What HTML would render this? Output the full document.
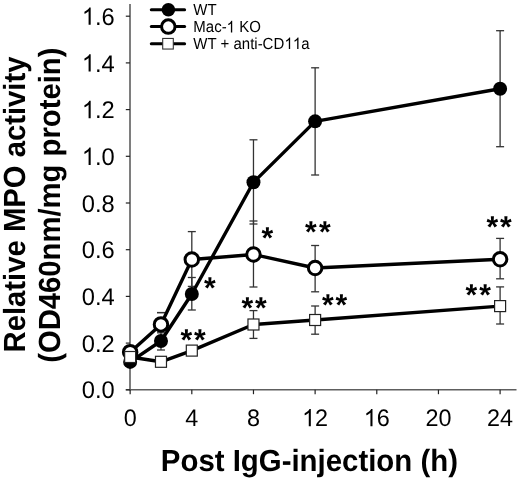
<!DOCTYPE html><html><head><meta charset="utf-8"><style>html,body{margin:0;padding:0;background:#fff;}svg{display:block;will-change:transform;}text{font-family:"Liberation Sans",sans-serif;text-rendering:geometricPrecision;}</style></head><body>
<svg width="520" height="479" viewBox="0 0 520 479">
<rect width="520" height="479" fill="#fff"/>
<line x1="130" y1="4" x2="130" y2="390.5" stroke="#5e5e5e" stroke-width="1.6"/>
<line x1="125.8" y1="389.8" x2="516.5" y2="389.8" stroke="#5e5e5e" stroke-width="1.6"/>
<line x1="125.8" y1="389.80" x2="130" y2="389.80" stroke="#222" stroke-width="1.2"/>
<g transform="translate(0,398.40) scale(1,1.02)"><text x="81.85" y="0.00" font-size="23.7">0.0</text></g>
<line x1="125.8" y1="343.10" x2="130" y2="343.10" stroke="#222" stroke-width="1.2"/>
<g transform="translate(0,351.70) scale(1,1.02)"><text x="81.85" y="0.00" font-size="23.7">0.2</text></g>
<line x1="125.8" y1="296.40" x2="130" y2="296.40" stroke="#222" stroke-width="1.2"/>
<g transform="translate(0,305.00) scale(1,1.02)"><text x="81.85" y="0.00" font-size="23.7">0.4</text></g>
<line x1="125.8" y1="249.70" x2="130" y2="249.70" stroke="#222" stroke-width="1.2"/>
<g transform="translate(0,258.30) scale(1,1.02)"><text x="81.85" y="0.00" font-size="23.7">0.6</text></g>
<line x1="125.8" y1="203.00" x2="130" y2="203.00" stroke="#222" stroke-width="1.2"/>
<g transform="translate(0,211.60) scale(1,1.02)"><text x="81.85" y="0.00" font-size="23.7">0.8</text></g>
<line x1="125.8" y1="156.30" x2="130" y2="156.30" stroke="#222" stroke-width="1.2"/>
<g transform="translate(0,164.90) scale(1,1.02)"><path transform="translate(81.85,0.00) scale(0.01157,-0.01157)" d="M763 0H583V1147Q518 1085 412.5 1023T223 930V1104Q374 1175 487 1276T647 1472H763V0Z"/><text x="95.03" y="0.00" font-size="23.7">.0</text></g>
<line x1="125.8" y1="109.60" x2="130" y2="109.60" stroke="#222" stroke-width="1.2"/>
<g transform="translate(0,118.20) scale(1,1.02)"><path transform="translate(81.85,0.00) scale(0.01157,-0.01157)" d="M763 0H583V1147Q518 1085 412.5 1023T223 930V1104Q374 1175 487 1276T647 1472H763V0Z"/><text x="95.03" y="0.00" font-size="23.7">.2</text></g>
<line x1="125.8" y1="62.90" x2="130" y2="62.90" stroke="#222" stroke-width="1.2"/>
<g transform="translate(0,71.50) scale(1,1.02)"><path transform="translate(81.85,0.00) scale(0.01157,-0.01157)" d="M763 0H583V1147Q518 1085 412.5 1023T223 930V1104Q374 1175 487 1276T647 1472H763V0Z"/><text x="95.03" y="0.00" font-size="23.7">.4</text></g>
<line x1="125.8" y1="16.20" x2="130" y2="16.20" stroke="#222" stroke-width="1.2"/>
<g transform="translate(0,24.80) scale(1,1.02)"><path transform="translate(81.85,0.00) scale(0.01157,-0.01157)" d="M763 0H583V1147Q518 1085 412.5 1023T223 930V1104Q374 1175 487 1276T647 1472H763V0Z"/><text x="95.03" y="0.00" font-size="23.7">.6</text></g>
<line x1="130.15" y1="389.8" x2="130.15" y2="394.2" stroke="#222" stroke-width="1.2"/>
<g transform="translate(0,426.20) scale(1,1.02)"><text x="123.64" y="0.00" font-size="23.4">0</text></g>
<line x1="191.81" y1="389.8" x2="191.81" y2="394.2" stroke="#222" stroke-width="1.2"/>
<g transform="translate(0,426.20) scale(1,1.02)"><text x="185.30" y="0.00" font-size="23.4">4</text></g>
<line x1="253.47" y1="389.8" x2="253.47" y2="394.2" stroke="#222" stroke-width="1.2"/>
<g transform="translate(0,426.20) scale(1,1.02)"><text x="246.96" y="0.00" font-size="23.4">8</text></g>
<line x1="315.12" y1="389.8" x2="315.12" y2="394.2" stroke="#222" stroke-width="1.2"/>
<g transform="translate(0,426.20) scale(1,1.02)"><path transform="translate(302.11,0.00) scale(0.01143,-0.01143)" d="M763 0H583V1147Q518 1085 412.5 1023T223 930V1104Q374 1175 487 1276T647 1472H763V0Z"/><text x="315.12" y="0.00" font-size="23.4">2</text></g>
<line x1="376.78" y1="389.8" x2="376.78" y2="394.2" stroke="#222" stroke-width="1.2"/>
<g transform="translate(0,426.20) scale(1,1.02)"><path transform="translate(363.77,0.00) scale(0.01143,-0.01143)" d="M763 0H583V1147Q518 1085 412.5 1023T223 930V1104Q374 1175 487 1276T647 1472H763V0Z"/><text x="376.78" y="0.00" font-size="23.4">6</text></g>
<line x1="438.44" y1="389.8" x2="438.44" y2="394.2" stroke="#222" stroke-width="1.2"/>
<g transform="translate(0,426.20) scale(1,1.02)"><text x="425.43" y="0.00" font-size="23.4">20</text></g>
<line x1="500.10" y1="389.8" x2="500.10" y2="394.2" stroke="#222" stroke-width="1.2"/>
<g transform="translate(0,426.20) scale(1,1.02)"><text x="487.09" y="0.00" font-size="23.4">24</text></g>
<text transform="translate(309.4,470.9) scale(1,1.04)" font-size="29.4" font-weight="bold" text-anchor="middle">Post IgG-injection (h)</text>
<text transform="translate(24.8,204.5) rotate(-90) scale(1,1.045)" font-size="29.25" font-weight="bold" text-anchor="middle">Relative MPO activity</text>
<text transform="translate(60.3,205.2) rotate(-90) scale(1,1.045)" font-size="29.25" font-weight="bold" text-anchor="middle">(OD460nm/mg protein)</text>
<line x1="160.98" y1="332.8" x2="160.98" y2="350.0" stroke="#333" stroke-width="1.3"/>
<line x1="156.98" y1="332.8" x2="164.98" y2="332.8" stroke="#333" stroke-width="1.3"/>
<line x1="156.98" y1="350.0" x2="164.98" y2="350.0" stroke="#333" stroke-width="1.3"/>
<line x1="191.81" y1="277.5" x2="191.81" y2="310.0" stroke="#333" stroke-width="1.3"/>
<line x1="187.81" y1="277.5" x2="195.81" y2="277.5" stroke="#333" stroke-width="1.3"/>
<line x1="187.81" y1="310.0" x2="195.81" y2="310.0" stroke="#333" stroke-width="1.3"/>
<line x1="253.47" y1="139.8" x2="253.47" y2="224.0" stroke="#333" stroke-width="1.3"/>
<line x1="249.47" y1="139.8" x2="257.47" y2="139.8" stroke="#333" stroke-width="1.3"/>
<line x1="249.47" y1="224.0" x2="257.47" y2="224.0" stroke="#333" stroke-width="1.3"/>
<line x1="315.12" y1="67.8" x2="315.12" y2="175.0" stroke="#333" stroke-width="1.3"/>
<line x1="311.12" y1="67.8" x2="319.12" y2="67.8" stroke="#333" stroke-width="1.3"/>
<line x1="311.12" y1="175.0" x2="319.12" y2="175.0" stroke="#333" stroke-width="1.3"/>
<line x1="500.10" y1="30.7" x2="500.10" y2="146.7" stroke="#333" stroke-width="1.3"/>
<line x1="496.10" y1="30.7" x2="504.10" y2="30.7" stroke="#333" stroke-width="1.3"/>
<line x1="496.10" y1="146.7" x2="504.10" y2="146.7" stroke="#333" stroke-width="1.3"/>
<line x1="160.98" y1="312.6" x2="160.98" y2="312.6" stroke="#333" stroke-width="1.3"/>
<line x1="156.98" y1="312.6" x2="164.98" y2="312.6" stroke="#333" stroke-width="1.3"/>
<line x1="156.98" y1="312.6" x2="164.98" y2="312.6" stroke="#333" stroke-width="1.3"/>
<line x1="191.81" y1="231.6" x2="191.81" y2="286.4" stroke="#333" stroke-width="1.3"/>
<line x1="187.81" y1="231.6" x2="195.81" y2="231.6" stroke="#333" stroke-width="1.3"/>
<line x1="187.81" y1="286.4" x2="195.81" y2="286.4" stroke="#333" stroke-width="1.3"/>
<line x1="253.47" y1="221.0" x2="253.47" y2="287.0" stroke="#333" stroke-width="1.3"/>
<line x1="249.47" y1="221.0" x2="257.47" y2="221.0" stroke="#333" stroke-width="1.3"/>
<line x1="249.47" y1="287.0" x2="257.47" y2="287.0" stroke="#333" stroke-width="1.3"/>
<line x1="315.12" y1="245.5" x2="315.12" y2="291.8" stroke="#333" stroke-width="1.3"/>
<line x1="311.12" y1="245.5" x2="319.12" y2="245.5" stroke="#333" stroke-width="1.3"/>
<line x1="311.12" y1="291.8" x2="319.12" y2="291.8" stroke="#333" stroke-width="1.3"/>
<line x1="500.10" y1="238.4" x2="500.10" y2="278.8" stroke="#333" stroke-width="1.3"/>
<line x1="496.10" y1="238.4" x2="504.10" y2="238.4" stroke="#333" stroke-width="1.3"/>
<line x1="496.10" y1="278.8" x2="504.10" y2="278.8" stroke="#333" stroke-width="1.3"/>
<line x1="253.47" y1="310.6" x2="253.47" y2="338.4" stroke="#333" stroke-width="1.3"/>
<line x1="249.47" y1="310.6" x2="257.47" y2="310.6" stroke="#333" stroke-width="1.3"/>
<line x1="249.47" y1="338.4" x2="257.47" y2="338.4" stroke="#333" stroke-width="1.3"/>
<line x1="315.12" y1="306.0" x2="315.12" y2="334.2" stroke="#333" stroke-width="1.3"/>
<line x1="311.12" y1="306.0" x2="319.12" y2="306.0" stroke="#333" stroke-width="1.3"/>
<line x1="311.12" y1="334.2" x2="319.12" y2="334.2" stroke="#333" stroke-width="1.3"/>
<line x1="500.10" y1="286.9" x2="500.10" y2="324.0" stroke="#333" stroke-width="1.3"/>
<line x1="496.10" y1="286.9" x2="504.10" y2="286.9" stroke="#333" stroke-width="1.3"/>
<line x1="496.10" y1="324.0" x2="504.10" y2="324.0" stroke="#333" stroke-width="1.3"/>
<polyline points="130.15,361.90 160.98,341.00 191.81,294.00 253.47,182.30 315.12,121.35 500.10,88.75" fill="none" stroke="#000" stroke-width="3.4" stroke-linejoin="round"/>
<circle cx="130.15" cy="361.90" r="7" fill="#000"/>
<circle cx="160.98" cy="341.00" r="7" fill="#000"/>
<circle cx="191.81" cy="294.00" r="7" fill="#000"/>
<circle cx="253.47" cy="182.30" r="7" fill="#000"/>
<circle cx="315.12" cy="121.35" r="7" fill="#000"/>
<circle cx="500.10" cy="88.75" r="7" fill="#000"/>
<polyline points="130.15,352.20 160.98,324.40 191.81,259.50 253.47,254.50 315.12,268.00 500.10,259.25" fill="none" stroke="#000" stroke-width="3.4" stroke-linejoin="round"/>
<circle cx="130.15" cy="352.20" r="6.75" fill="#fff" stroke="#000" stroke-width="3.0"/>
<circle cx="160.98" cy="324.40" r="6.75" fill="#fff" stroke="#000" stroke-width="3.0"/>
<circle cx="191.81" cy="259.50" r="6.75" fill="#fff" stroke="#000" stroke-width="3.0"/>
<circle cx="253.47" cy="254.50" r="6.75" fill="#fff" stroke="#000" stroke-width="3.0"/>
<circle cx="315.12" cy="268.00" r="6.75" fill="#fff" stroke="#000" stroke-width="3.0"/>
<circle cx="500.10" cy="259.25" r="6.75" fill="#fff" stroke="#000" stroke-width="3.0"/>
<polyline points="130.15,357.00 160.98,361.80 191.81,350.60 253.47,324.50 315.12,320.00 500.10,306.10" fill="none" stroke="#000" stroke-width="3.4" stroke-linejoin="round"/>
<rect x="124.65" y="351.50" width="11" height="11" fill="#fff" stroke="#222" stroke-width="1.2"/>
<rect x="155.48" y="356.30" width="11" height="11" fill="#fff" stroke="#222" stroke-width="1.2"/>
<rect x="186.31" y="345.10" width="11" height="11" fill="#fff" stroke="#222" stroke-width="1.2"/>
<rect x="247.97" y="319.00" width="11" height="11" fill="#fff" stroke="#222" stroke-width="1.2"/>
<rect x="309.62" y="314.50" width="11" height="11" fill="#fff" stroke="#222" stroke-width="1.2"/>
<rect x="494.60" y="300.60" width="11" height="11" fill="#fff" stroke="#222" stroke-width="1.2"/>
<text x="204.07" y="297.77" font-size="30" font-weight="bold">*</text>
<text x="180.62" y="349.98" font-size="30" font-weight="bold">*</text>
<text x="194.03" y="349.98" font-size="30" font-weight="bold">*</text>
<text x="261.52" y="247.62" font-size="30" font-weight="bold">*</text>
<text x="241.38" y="318.38" font-size="30" font-weight="bold">*</text>
<text x="254.88" y="318.38" font-size="30" font-weight="bold">*</text>
<text x="305.02" y="241.57" font-size="30" font-weight="bold">*</text>
<text x="318.88" y="241.57" font-size="30" font-weight="bold">*</text>
<text x="321.93" y="314.77" font-size="30" font-weight="bold">*</text>
<text x="335.48" y="314.77" font-size="30" font-weight="bold">*</text>
<text x="486.43" y="236.72" font-size="30" font-weight="bold">*</text>
<text x="499.88" y="236.72" font-size="30" font-weight="bold">*</text>
<text x="465.57" y="304.52" font-size="30" font-weight="bold">*</text>
<text x="479.18" y="304.52" font-size="30" font-weight="bold">*</text>
<line x1="151.3" y1="9.8" x2="184.6" y2="9.8" stroke="#000" stroke-width="3" stroke-linecap="round"/>
<circle cx="168.4" cy="9.8" r="6.8" fill="#000"/>
<g transform="translate(193.3,14.50) scale(1,1.07)"><text x="0.00" y="0.00" font-size="15.0">WT</text></g>
<line x1="151.3" y1="26.6" x2="184.6" y2="26.6" stroke="#000" stroke-width="3" stroke-linecap="round"/>
<circle cx="168.3" cy="26.6" r="6.75" fill="#fff" stroke="#000" stroke-width="3.0"/>
<g transform="translate(193.3,32.40) scale(1,1.07)"><text x="0.00" y="0.00" font-size="15.0">Mac-</text><path transform="translate(33.33,0.00) scale(0.00732,-0.00732)" d="M763 0H583V1147Q518 1085 412.5 1023T223 930V1104Q374 1175 487 1276T647 1472H763V0Z"/><text x="45.84" y="0.00" font-size="15.0">KO</text></g>
<line x1="151.3" y1="43.75" x2="184.6" y2="43.75" stroke="#000" stroke-width="3" stroke-linecap="round"/>
<rect x="162.7" y="38.45" width="10.6" height="10.6" fill="#fff" stroke="#333" stroke-width="1.1"/>
<g transform="translate(193.3,49.00) scale(1,1.07)"><text x="0.00" y="0.00" font-size="15.0">WT + anti-CD</text><path transform="translate(91.26,0.00) scale(0.00732,-0.00732)" d="M763 0H583V1147Q518 1085 412.5 1023T223 930V1104Q374 1175 487 1276T647 1472H763V0Z"/><path transform="translate(99.60,0.00) scale(0.00732,-0.00732)" d="M763 0H583V1147Q518 1085 412.5 1023T223 930V1104Q374 1175 487 1276T647 1472H763V0Z"/><text x="107.94" y="0.00" font-size="15.0">a</text></g>
</svg></body></html>
